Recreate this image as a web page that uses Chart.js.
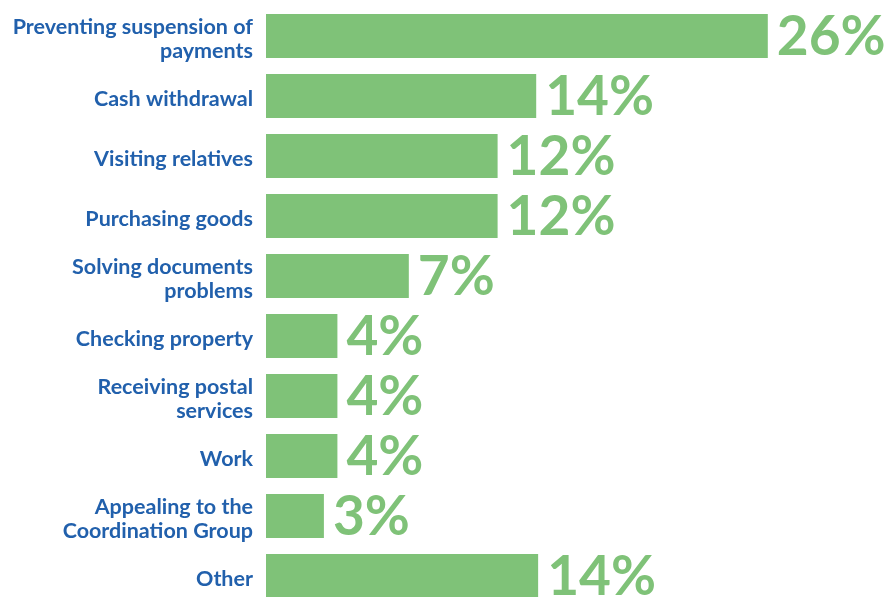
<!DOCTYPE html>
<html>
<head>
<meta charset="utf-8">
<script src="https://cdn.jsdelivr.net/npm/chart.js@4"></script>
<style>
  html, body { margin: 0; padding: 0; background: #fff; overflow: hidden; }
</style>
</head>
<body>
<canvas id="chart" width="886" height="606"></canvas>
<script>
const categories = [
  ['Preventing suspension of', 'payments'],
  'Cash withdrawal',
  'Visiting relatives',
  'Purchasing goods',
  ['Solving documents', 'problems'],
  'Checking property',
  ['Receiving postal', 'services'],
  'Work',
  ['Appealing to the', 'Coordination Group'],
  'Other'
]
// bar lengths (percent)
const values = [26, 14, 12, 12, 7.4, 3.7, 3.7, 3.7, 3, 14.1]
// printed labels
const valueLabels = ['26%', '14%', '12%', '12%', '7%', '4%', '4%', '4%', '3%', '14%']

const green = '#7fc278'
const blue = '#2160ac'

// big percent labels next to each bar
const valueLabelPlugin = {
  id: 'valueLabels',
  afterDatasetsDraw(chart) {
    const ctx = chart.ctx
    const meta = chart.getDatasetMeta(0)
    ctx.save()
    ctx.font = 'bold 55px Lato'
    ctx.fillStyle = green
    ctx.textAlign = 'left'
    ctx.textBaseline = 'middle'
    meta.data.forEach((bar, i) => {
      ctx.fillText(valueLabels[i], bar.x + 9, bar.y + 1)
    })
    ctx.restore()
  }
}

new Chart(document.getElementById('chart'), {
  type: 'bar',
  data: {
    labels: categories,
    datasets: [{
      data: values,
      backgroundColor: green,
      borderWidth: 0,
      barPercentage: 0.733,
      categoryPercentage: 1
    }]
  },
  options: {
    indexAxis: 'y',
    responsive: false,
    animation: false,
    layout: { padding: { top: 6, right: 41, bottom: 0, left: 0 } },
    plugins: {
      legend: { display: false },
      tooltip: { enabled: false }
    },
    scales: {
      x: {
        display: false,
        min: 0,
        max: 30
      },
      y: {
        grid: { display: false, drawTicks: false },
        border: { display: false },
        afterFit(scale) {
          scale.width = 266
          scale.paddingTop = 0
          scale.paddingBottom = 0
        },
        ticks: {
          color: blue,
          padding: 13,
          labelOffset: 3,
          font: { family: 'Lato', weight: 'bold', size: 21.5, lineHeight: 1.12 }
        }
      }
    }
  },
  plugins: [valueLabelPlugin]
})
</script>
</body>
</html>
